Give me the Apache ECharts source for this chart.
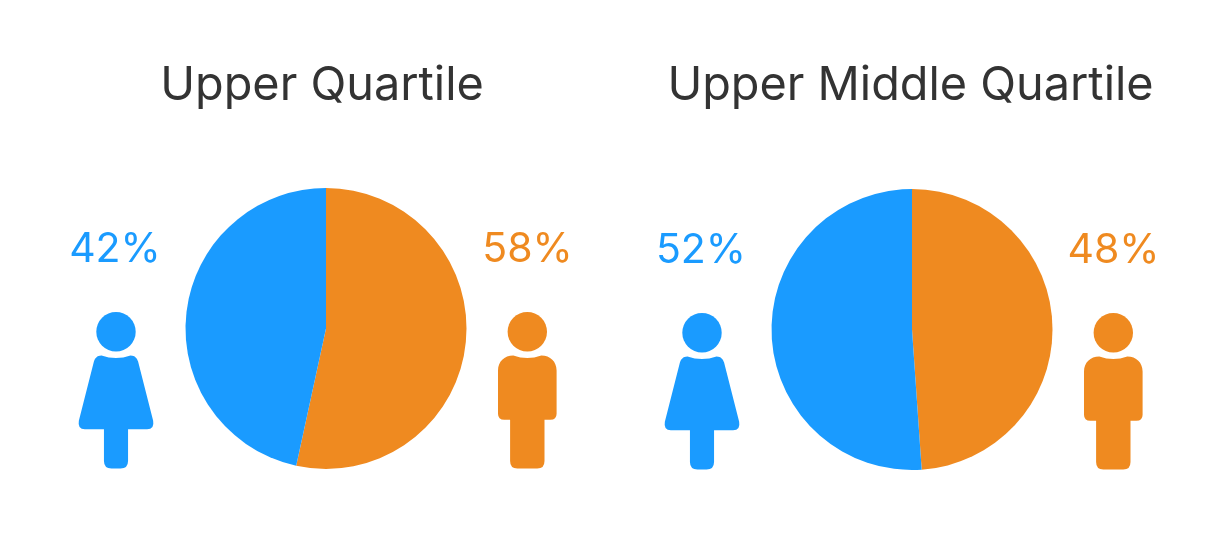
<!DOCTYPE html>
<html><head><meta charset="utf-8">
<script src="https://cdn.jsdelivr.net/npm/echarts@6/dist/echarts.min.js"></script>
<style>html,body{margin:0;padding:0;background:#fff}#c{width:1211px;height:540px}</style>
</head><body><div id="c"></div>
<script>
const titles = ['Upper Quartile', 'Upper Middle Quartile'];
const categories = ['Male', 'Female'];
const upperValues = [53.4, 46.6];
const upperMiddleValues = [48.9, 51.1];
const femaleLabels = ['42%', '52%'];
const maleLabels = ['58%', '48%'];
const BLUE = '#1a9bff', ORANGE = '#ef8a20', INK = '#333333';
const FONT = 'Inter, "Open Sans", sans-serif';

const femaleBody = 'M-14.5,0 Q0,5 14.5,0 C19,0 21,3 22,6 L37,65 Q38.5,73.5 31,73.5 L12,73.5 L12,105 Q12,112.5 4.5,112.5 L-4.5,112.5 Q-12,112.5 -12,105 L-12,73.5 L-31,73.5 Q-38.5,73.5 -37,65 L-22,6 C-21,3 -19,0 -14.5,0 Z';
const maleBody = 'M-14,0 Q0,5 14,0 C23,0 29.3,6 29.3,15 L29.3,58 Q29.3,64 23,64 L17.2,64 L17.2,105 Q17.2,112.5 10,112.5 L-10,112.5 Q-17.2,112.5 -17.2,105 L-17.2,64 L-23,64 Q-29.3,64 -29.3,58 L-29.3,15 C-29.3,6 -23,0 -14,0 Z';

const icons = [
  { x: 116, y: 355.5, d: femaleBody, hw: 37.4, color: BLUE },
  { x: 527.3, y: 355.5, d: maleBody, hw: 29.3, color: ORANGE },
  { x: 702, y: 356.5, d: femaleBody, hw: 37.4, color: BLUE },
  { x: 1113.3, y: 356.5, d: maleBody, hw: 29.3, color: ORANGE }
];
function pct(x, y, text, color) {
  return { type: 'text', x: x, y: y, silent: true, style: { text: text, fill: color, font: '400 41px ' + FONT, textAlign: 'center', textVerticalAlign: 'middle' } };
}
function pie(center, values) {
  return { type: 'pie', center: center, radius: [0, 140.5], startAngle: 90, clockwise: true, silent: true,
    label: { show: false }, labelLine: { show: false }, animation: false,
    data: categories.map((n, i) => ({ name: n, value: values[i], itemStyle: { color: i === 0 ? ORANGE : BLUE } })) };
}
const chart = echarts.init(document.getElementById('c'), null, { renderer: 'canvas' });
chart.setOption({
  backgroundColor: '#ffffff', animation: false,
  title: [
    { text: titles[0], left: 317, top: 57, textAlign: 'center', textStyle: { fontFamily: FONT, fontSize: 46.8, fontWeight: 400, color: INK } },
    { text: titles[1], left: 905.5, top: 57, textAlign: 'center', textStyle: { fontFamily: FONT, fontSize: 46.8, fontWeight: 400, color: INK } }
  ],
  series: [
    pie([326, 328.5], upperValues),
    pie([912, 329.5], upperMiddleValues),
    { type: 'custom', coordinateSystem: 'none', silent: true, animation: false, data: icons.map((_, i) => i),
      renderItem: function (params) {
        const k = icons[params.dataIndex];
        return { type: 'group', x: k.x, y: k.y, children: [
          { type: 'circle', shape: { cx: 0, cy: -23.8, r: 19.7 }, style: { fill: k.color } },
          { type: 'path', shape: { pathData: k.d, x: -k.hw, y: 0, width: 2 * k.hw, height: 113, layout: 'cover' }, style: { fill: k.color } }
        ]};
      } }
  ],
  graphic: [
    pct(115, 250, femaleLabels[0], BLUE),
    pct(527.5, 250, maleLabels[0], ORANGE),
    pct(701, 251, femaleLabels[1], BLUE),
    pct(1113.5, 251, maleLabels[1], ORANGE)
  ]
});
</script></body></html>
